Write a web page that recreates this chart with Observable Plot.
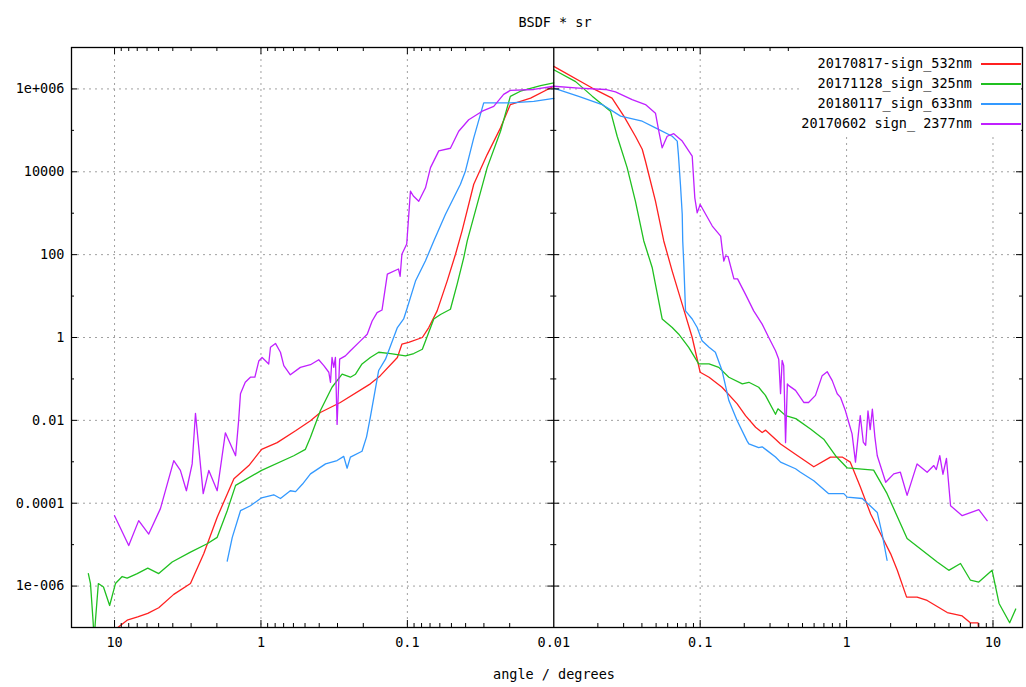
<!DOCTYPE html>
<html><head><meta charset="utf-8">
<script src="https://cdn.jsdelivr.net/npm/d3@7"></script>
<script src="https://cdn.jsdelivr.net/npm/@observablehq/plot@0.6"></script>
<style>
body{margin:0;background:#fff;}
#wrap{position:relative;width:1026px;height:687px;overflow:hidden;}
#legend{position:absolute;left:800px;top:48px;width:221px;height:86px;background:#fff;font-family:"DejaVu Sans Mono",monospace;font-size:13.5px;color:#000;}
.lt{position:absolute;right:49px;transform:translateY(-50%);white-space:pre;}
.ll{position:absolute;left:181px;width:40px;height:1.5px;}
</style></head><body><div id="wrap"></div>
<script>
// ---- data: [angle (degrees), BSDF*sr] ----
const seriesNames = ["20170817-sign_532nm","20171128_sign_325nm","20180117_sign_633nm","20170602 sign_ 2377nm"];
const seriesColors = ["#ff2020","#20c020","#3399ff","#c020ff"];

const red532Left = [[9.5,1.0e-7],[8.2,1.5e-7],[6.95,1.8e-7],[5.93,2.2e-7],[4.99,3.0e-7],[3.94,6.3e-7],[3.03,1.15e-6],[2.46,6e-6],[1.99,4.6e-5],[1.53,3.9e-4],[1.21,8.1e-4],[0.99,2.0e-3],[0.775,2.9e-3],[0.58,5.6e-3],[0.459,9.8e-3],[0.393,0.0155],[0.287,0.027],[0.179,0.076],[0.153,0.12],[0.117,0.33],[0.109,0.69],[0.098,0.76],[0.079,1.0],[0.0714,1.74],[0.0626,4.4],[0.0535,23],[0.0469,102],[0.0423,375],[0.0352,5000],[0.0285,26000],[0.0231,1.15e5],[0.0198,4.2e5],[0.0144,6e5],[0.01,1.16e6]];
const red532Right = [[0.01,3.5e6],[0.0183,1.05e6],[0.025,6e5],[0.0301,2.2e5],[0.0361,7.2e4],[0.0402,3.5e4],[0.0423,1.8e4],[0.0495,1950],[0.0564,214],[0.0644,40],[0.0754,6.3],[0.0882,1.0],[0.1,0.145],[0.115,0.11],[0.141,0.063],[0.179,0.025],[0.204,0.013],[0.239,0.0068],[0.265,0.0051],[0.28,0.0058],[0.327,0.0035],[0.354,2.7e-3],[0.45,1.5e-3],[0.597,7.6e-4],[0.776,1.3e-3],[0.933,1.3e-3],[1.06,9.8e-4],[1.24,2.5e-4],[1.46,5.5e-5],[1.71,1.8e-5],[2.0,6e-6],[2.22,2.4e-6],[2.57,5.4e-7],[3.03,5.4e-7],[3.55,4.5e-7],[4.87,2.3e-7],[6.16,1.9e-7],[7.0,1.3e-7],[7.9,1.3e-7],[8.0,8e-8]];

const green325Left = [[15.1,2.0e-6],[14.6,1.15e-6],[14.0,1.35e-7],[13.8,5e-8],[13.5,1.5e-7],[12.9,1.15e-6],[11.9,9.5e-7],[10.8,3.4e-7],[9.86,1.15e-6],[8.87,1.7e-6],[8.2,1.55e-6],[7.0,2.0e-6],[5.93,2.7e-6],[4.99,2.0e-6],[4.04,3.8e-6],[3.03,6.6e-6],[2.33,1.05e-5],[1.99,1.5e-5],[1.70,6.6e-5],[1.49,2.7e-4],[0.99,6.2e-4],[0.597,1.4e-3],[0.497,2.0e-3],[0.459,3.9e-3],[0.393,0.017],[0.327,0.063],[0.279,0.13],[0.245,0.11],[0.226,0.13],[0.204,0.23],[0.179,0.33],[0.157,0.44],[0.130,0.41],[0.103,0.36],[0.0904,0.41],[0.079,0.52],[0.066,2.8],[0.0594,3.6],[0.0508,4.8],[0.0457,19.5],[0.0412,85],[0.039,214],[0.0285,12600],[0.0231,9.5e4],[0.0198,6.6e5],[0.0169,8.8e5],[0.0123,1.2e6],[0.01,1.4e6]];
const green325Right = [[0.01,2.9e6],[0.0141,1.5e6],[0.0183,6.7e5],[0.0244,2.9e5],[0.0271,7.2e4],[0.0317,1.26e4],[0.0361,1950],[0.0412,214],[0.047,49],[0.055,2.8],[0.0644,1.74],[0.0714,1.2],[0.0835,0.58],[0.0977,0.23],[0.115,0.23],[0.134,0.19],[0.157,0.11],[0.194,0.076],[0.215,0.083],[0.251,0.063],[0.279,0.04],[0.327,0.014],[0.34,0.019],[0.383,0.013],[0.45,0.011],[0.567,6.2e-3],[0.698,3.5e-3],[0.84,1.4e-3],[1.01,7.1e-4],[1.53,6.3e-4],[1.89,1.7e-4],[2.59,1.4e-5],[4.16,3.8e-6],[4.99,2.4e-6],[6.0,3.5e-6],[7.0,1.4e-6],[8.0,1.25e-6],[9.86,2.4e-6],[11.0,3.8e-7],[13.0,1.3e-7],[14.3,2.8e-7]];

const blue633Left = [[1.70,4e-6],[1.57,1.5e-5],[1.38,6.6e-5],[1.18,8.7e-5],[0.99,1.35e-4],[0.818,1.6e-4],[0.736,1.3e-4],[0.63,2.0e-4],[0.58,1.9e-4],[0.52,2.9e-4],[0.459,5.1e-4],[0.362,8.9e-4],[0.302,1.07e-3],[0.272,1.35e-3],[0.258,7e-4],[0.245,1.3e-3],[0.204,1.8e-3],[0.19,4e-3],[0.179,0.012],[0.157,0.16],[0.141,0.30],[0.117,1.74],[0.106,2.8],[0.1,5.3],[0.088,23],[0.0752,71],[0.066,214],[0.055,930],[0.0434,5000],[0.0401,1.05e4],[0.0352,6.6e4],[0.0301,4.6e5],[0.0198,4.6e5],[0.0137,5e5],[0.01,5.9e5]];
const blue633Right = [[0.01,1.05e6],[0.0148,6.6e5],[0.0214,4.2e5],[0.0286,2.2e5],[0.0402,1.66e5],[0.0495,1.15e5],[0.0644,7.2e4],[0.0697,5.5e4],[0.071,2.6e4],[0.0733,5000],[0.0754,940],[0.076,214],[0.0773,59],[0.0794,4.4],[0.0882,2.8],[0.0954,1.74],[0.103,0.83],[0.115,0.58],[0.127,0.44],[0.141,0.16],[0.157,0.03],[0.179,9.8e-3],[0.209,3.2e-3],[0.215,2.7e-3],[0.251,2.2e-3],[0.265,2.3e-3],[0.287,1.86e-3],[0.327,1.3e-3],[0.354,9.8e-4],[0.448,6.8e-4],[0.484,5.6e-4],[0.597,3.5e-4],[0.755,1.7e-4],[0.957,1.7e-4],[1.01,1.4e-4],[1.28,1.3e-4],[1.62,6e-5],[1.75,1.8e-5],[1.89,4.2e-6]];

const purple2377Left = [[10,5e-5],[8.0,9.5e-6],[6.84,3.8e-5],[5.84,1.8e-5],[4.86,7.4e-5],[3.94,1.07e-3],[3.55,6.2e-4],[3.23,2.0e-4],[2.95,8.9e-4],[2.8,0.0148],[2.48,1.7e-4],[2.27,6.2e-4],[1.99,2.0e-4],[1.75,5e-3],[1.49,1.4e-3],[1.42,0.01],[1.38,0.044],[1.28,0.083],[1.18,0.11],[1.10,0.11],[1.035,0.27],[0.982,0.33],[0.885,0.23],[0.861,0.58],[0.796,0.72],[0.736,0.44],[0.698,0.21],[0.63,0.126],[0.538,0.19],[0.459,0.22],[0.403,0.29],[0.372,0.21],[0.344,0.145],[0.335,0.083],[0.327,0.33],[0.318,0.19],[0.31,0.33],[0.302,8e-3],[0.29,0.3],[0.265,0.36],[0.245,0.48],[0.209,0.83],[0.188,1.2],[0.174,2.5],[0.161,4.0],[0.149,4.6],[0.137,34],[0.115,45],[0.112,30],[0.109,102],[0.101,180],[0.0953,3400],[0.091,2600],[0.0836,1950],[0.0752,4100],[0.0695,1.26e4],[0.061,3.2e4],[0.0508,3.7e4],[0.0446,9.5e4],[0.0381,1.8e5],[0.0308,2.9e5],[0.0257,3.8e5],[0.022,7.4e5],[0.0198,9.2e5],[0.0137,9.7e5],[0.01,1.16e6]];
const purple2377Right = [[0.01,1.16e6],[0.0148,1.05e6],[0.0225,9.7e5],[0.0264,8.5e5],[0.0343,5.5e5],[0.0423,4.2e5],[0.0495,2.6e5],[0.0522,9.5e4],[0.055,3.8e4],[0.0595,7.2e4],[0.066,8.3e4],[0.0754,5.5e4],[0.0882,2.4e4],[0.0919,2350],[0.0954,1020],[0.1,1620],[0.121,490],[0.138,280],[0.141,148],[0.145,70],[0.149,93],[0.155,90],[0.17,26],[0.18,26],[0.204,11],[0.232,4.4],[0.265,2.1],[0.294,1.0],[0.327,0.48],[0.344,0.30],[0.354,0.044],[0.363,0.28],[0.372,0.21],[0.383,2.9e-3],[0.394,0.076],[0.403,0.069],[0.448,0.053],[0.51,0.027],[0.55,0.027],[0.613,0.04],[0.681,0.12],[0.737,0.15],[0.798,0.091],[0.863,0.044],[0.908,0.036],[0.982,0.017],[1.035,8.9e-3],[1.09,4.7e-3],[1.15,9.8e-4],[1.24,0.013],[1.3,3e-3],[1.35,2.5e-3],[1.40,0.0168],[1.45,6e-3],[1.5,0.0186],[1.56,4e-3],[1.62,1.4e-3],[1.85,3.2e-4],[2.1,5.1e-4],[2.33,5.6e-4],[2.59,1.55e-4],[3.03,8.9e-4],[3.55,5.6e-4],[3.94,8.1e-4],[4.1,6.5e-4],[4.33,1.4e-3],[4.55,5e-4],[4.81,1.2e-3],[5.13,8.7e-5],[6.16,5e-5],[8.0,7e-5],[9.12,3.8e-5]];

// tick labels
const xTickAngles = [10, 1, 0.1, 0.01, 0.1, 1, 10];
const xTickSides = [-1, -1, -1, 0, 1, 1, 1];
const xTickLabels = ["10", "1", "0.1", "0.01", "0.1", "1", "10"];
const yTickValues = [1e-6, 1e-4, 1e-2, 1, 1e2, 1e4, 1e6];
const yTickLabels = ["1e-006", "0.0001", "0.01", "1", "100", "10000", "1e+006"];
const titleText = "BSDF * sr";
const xLabelText = "angle / degrees";

// ---- build ----
const W = 1026, H = 687;
const mL = 71, mR = 4, mT = 47, mB = 60;
const fw = W - mL - mR, fh = H - mT - mB;
const uMin = -3.294, uMax = 3.2015;
const cx = fw * (0 - uMin) / (uMax - uMin);
const toU = (a, side) => side * Math.log10(a / 0.01);

const branches = [
  [red532Left, 0, -1], [red532Right, 0, 1],
  [green325Left, 1, -1], [green325Right, 1, 1],
  [blue633Left, 2, -1], [blue633Right, 2, 1],
  [purple2377Left, 3, -1], [purple2377Right, 3, 1]
];
const rows = [];
branches.forEach(([arr, si, side], bi) => {
  arr.forEach(([a, v]) => rows.push({series: seriesNames[si], branch: bi, u: toU(a, side), v}));
});

const xTicks = xTickAngles.map((a, i) => toU(a, xTickSides[i] || 1) * (xTickSides[i] === 0 ? 0 : 1));
const xMajor = xTicks.filter(u => u !== 0);
const xMinor = [];
for (const side of [-1, 1]) for (let k = 0; k < 3; k++) for (let m = 2; m <= 9; m++) {
  const u = side * (k + Math.log10(m));
  if (u > uMin && u < uMax) xMinor.push(u);
}
const yMajor = yTickValues;
const yMinor = [1e-5, 1e-3, 0.1, 10, 1e3, 1e5];
const gridStyle = {stroke: "#a0a0a0", strokeWidth: 1, strokeDasharray: "2,4"};

const chart = Plot.plot({
  width: W, height: H,
  marginLeft: mL, marginRight: mR, marginTop: mT, marginBottom: mB,
  style: {fontFamily: "'DejaVu Sans Mono', monospace", fontSize: "13.5px", background: "#fff", color: "#000"},
  x: {type: "linear", domain: [uMin, uMax], ticks: xTicks, tickFormat: (d) => xTickLabels[xTicks.indexOf(d)], tickSize: 0, tickPadding: 10, label: null},
  y: {type: "log", domain: [1e-7, 1e7], ticks: yTickValues, tickFormat: (d) => yTickLabels[yTickValues.indexOf(d)], tickSize: 0, tickPadding: 7, label: null},
  color: {domain: seriesNames, range: seriesColors},
  marks: [
    Plot.ruleX(xMajor, {...gridStyle}),
    Plot.ruleY(yMajor, {...gridStyle}),
    Plot.line(rows, {x: "u", y: "v", z: "branch", stroke: "series", strokeWidth: 1.3, clip: true, curve: "linear"}),
    Plot.ruleX([0], {stroke: "#000", strokeWidth: 1.3}),
    Plot.frame({stroke: "#000", strokeWidth: 1.3}),
    // x ticks top & bottom
    Plot.ruleX(xMajor, {stroke: "#000", insetBottom: fh - 7}),
    Plot.ruleX(xMinor, {stroke: "#000", insetBottom: fh - 4}),
    Plot.ruleX(xMajor, {stroke: "#000", insetTop: fh - 7}),
    Plot.ruleX(xMinor, {stroke: "#000", insetTop: fh - 4}),
    // y ticks left, center (both sides), right
    Plot.ruleY(yMajor, {stroke: "#000", insetRight: fw - 6}),
    Plot.ruleY(yMinor, {stroke: "#000", insetRight: fw - 3}),
    Plot.ruleY(yMajor, {stroke: "#000", insetLeft: cx - 6, insetRight: fw - cx - 6}),
    Plot.ruleY(yMinor, {stroke: "#000", insetLeft: cx - 3, insetRight: fw - cx - 3}),
    Plot.ruleY(yMajor, {stroke: "#000", insetLeft: fw - 6}),
    Plot.ruleY(yMinor, {stroke: "#000", insetLeft: fw - 3}),
    // title and axis label
    Plot.text([titleText], {frameAnchor: "top", dy: -30, dx: 8, fill: "#000"}),
    Plot.text([xLabelText], {frameAnchor: "bottom", dy: 51, dx: 7, fill: "#000"})
  ]
});

const wrap = document.getElementById("wrap");
wrap.appendChild(chart);
const legend = document.createElement("div");
legend.id = "legend";
seriesNames.forEach((name, i) => {
  const t = document.createElement("div");
  t.className = "lt"; t.textContent = name; t.style.top = (15 + 20 * i) + "px";
  const l = document.createElement("div");
  l.className = "ll"; l.style.background = seriesColors[i]; l.style.top = (15 + 20 * i) + "px";
  legend.appendChild(t); legend.appendChild(l);
});
wrap.appendChild(legend);
</script>
</body></html>
